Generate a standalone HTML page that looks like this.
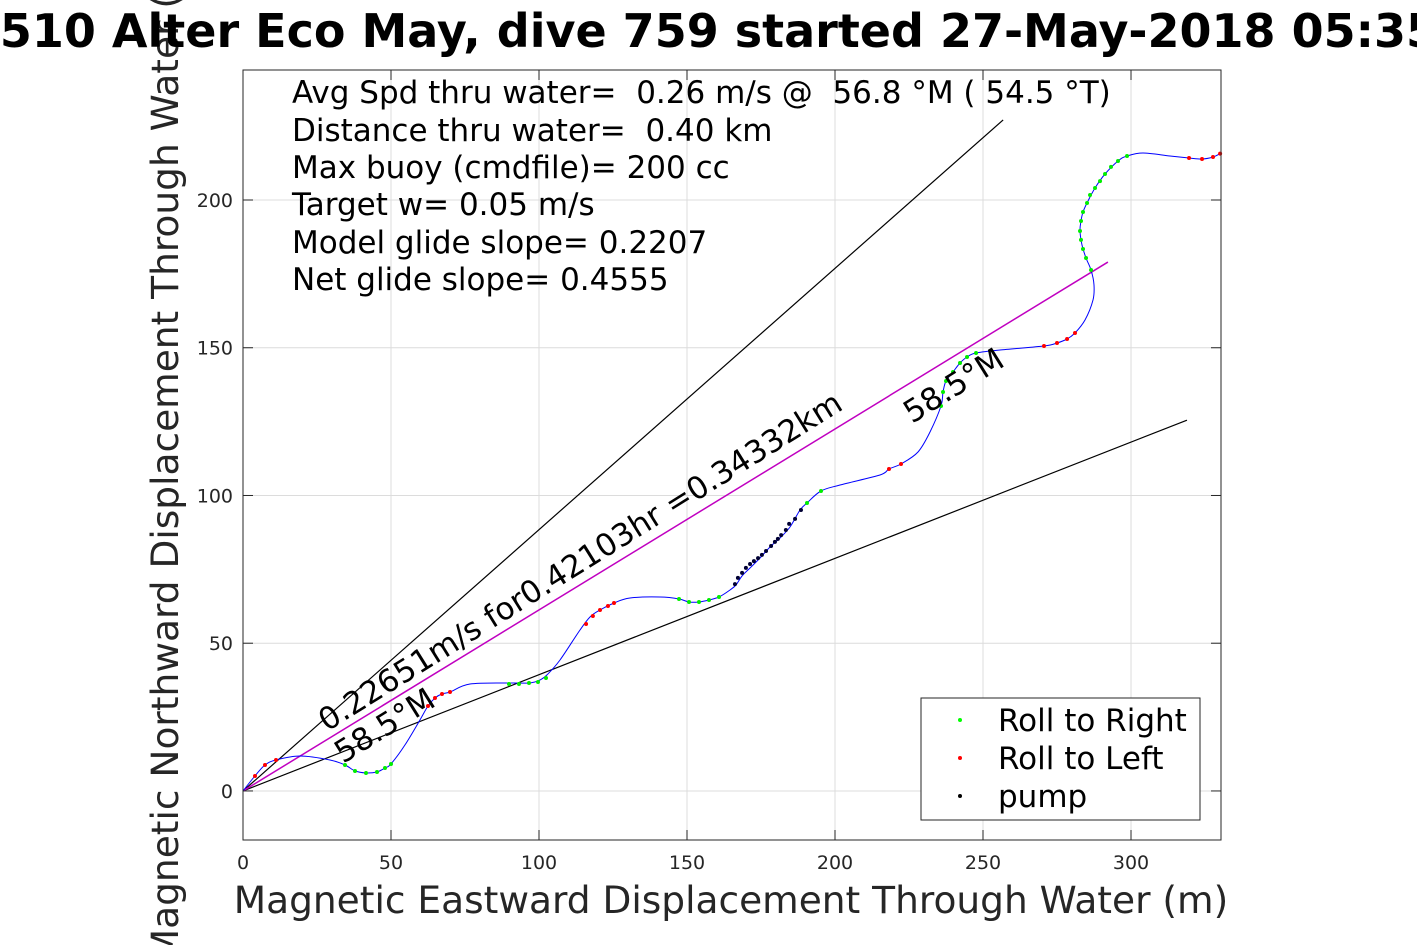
<!DOCTYPE html>
<html><head><meta charset="utf-8"><style>
body{margin:0;background:#fff;}
svg{display:block;font-family:"DejaVu Sans","Liberation Sans",sans-serif;}
text{white-space:pre;}
</style></head><body>
<svg id="chart" width="1417" height="945" viewBox="0 0 1417 945" xml:space="preserve">
<rect width="1417" height="945" fill="#fff"/>
<g id="grid"></g>
<g id="lines"></g>
<g id="marks"></g>
<rect x="243" y="70" width="978" height="770" fill="none" stroke="#262626" stroke-width="1"/>
<g id="ticks"></g>
<text x="731" y="913" font-size="37.5" text-anchor="middle" fill="#262626">Magnetic Eastward Displacement Through Water (m)</text>
<text transform="translate(178,452) rotate(-90)" font-size="37.5" text-anchor="middle" fill="#262626">Magnetic Northward Displacement Through Water (m)</text>
<text x="-71" y="47" font-size="46" font-weight="bold" fill="#000">SG510 Alter Eco May, dive 759 started 27-May-2018 05:35</text>
<g font-size="31" fill="#000">
<text x="292" y="103">Avg Spd thru water=  0.26 m/s @  56.8 °M ( 54.5 °T)</text>
<text x="292" y="141">Distance thru water=  0.40 km</text>
<text x="292" y="178">Max buoy (cmdfile)= 200 cc</text>
<text x="292" y="215">Target w= 0.05 m/s</text>
<text x="292" y="253">Model glide slope= 0.2207</text>
<text x="292" y="290">Net glide slope= 0.4555</text>
</g>
<text transform="translate(327,732) rotate(-32)" font-size="31" fill="#000">0.22651m/s for0.42103hr =0.34332km</text>
<text transform="translate(343,764) rotate(-32)" font-size="31" fill="#000">58.5°M</text>
<text transform="translate(912,424) rotate(-32)" font-size="31" fill="#000">58.5°M</text>
<g>
<rect x="921" y="698" width="279" height="122" fill="#fff" stroke="#262626" stroke-width="1"/>
<circle cx="960" cy="720" r="2" fill="#00ff00"/><text x="998" y="731" font-size="31">Roll to Right</text>
<circle cx="960" cy="758" r="2" fill="#ff0000"/><text x="998" y="769" font-size="31">Roll to Left</text>
<circle cx="960" cy="796" r="2" fill="#000"/><text x="998" y="807" font-size="31">pump</text>
</g>
</svg>
<script>
const xTicks=[0,50,100,150,200,250,300];
const yTicks=[0,50,100,150,200];
// trajectory (m east, m north)
const pathX=[0,4.05,7.43,11.15,19.26,29.39,34.46,37.84,41.55,45.27,47.97,50,54.73,59.8,62.5,64.86,67.23,69.93,76.69,90.2,96.96,100.34,102.7,107.09,113.85,117.23,120.61,125.34,130.74,140.88,147.3,150.68,154.05,157.43,160.81,164.53,166.55,168.58,171.28,174.66,178.04,181.42,184.8,188.18,190.54,195.27,201.69,215.2,218.24,222.3,228.04,232.09,235.81,236.49,237.5,239.86,242.23,244.6,247.64,255.74,270.6,275.0,278.4,281.08,284.46,287.16,287.5,286.49,284.8,283.45,282.77,283.11,283.78,285.14,287.84,291.22,295.61,298.65,304.05,313.18,319.6,323.99,327.7,330.4];
const pathY=[0,5.08,8.8,10.49,11.84,10.49,8.8,6.77,6.09,6.43,7.78,9.14,15.57,24.03,28.76,31.47,32.83,33.5,36.21,36.55,36.55,37.56,39.26,44.33,54.48,58.88,61.25,63.62,65.31,65.65,64.98,63.96,63.96,64.64,65.65,68.02,69.71,72.76,75.47,78.85,82.57,85.62,89.34,95.09,97.47,101.53,103.55,106.94,108.97,110.67,114.73,121.5,130.3,135.03,138.76,141.8,144.85,146.88,148.23,149.24,150.6,151.6,152.97,155.0,159.4,166.17,171.25,176.32,180.38,184.78,189.52,192.9,195.95,199.0,204.07,208.81,213.21,214.9,215.91,214.89,214.21,213.87,214.55,215.91];
const rightX=[34.46,37.84,41.55,45.27,47.97,50,89.86,93.24,96.62,99.66,102.36,147.3,150.68,154.05,157.43,160.81,190.54,195.27,235.81,236.49,237.5,239.86,242.23,244.6,247.64,286.49,284.8,283.78,283.1,282.77,283.11,283.78,285.14,286.15,287.84,289.53,291.22,293.24,295.61,298.65];
const rightY=[8.8,6.77,6.09,6.43,7.78,9.14,36.21,36.21,36.55,36.89,38.24,64.98,63.96,63.96,64.64,65.65,97.47,101.53,130.3,135.03,138.76,141.8,144.85,146.88,148.23,176.32,180.38,183.4,186.5,189.52,192.9,195.95,199.0,201.7,204.07,206.4,208.81,211.2,213.21,214.9];
const leftX=[4.05,7.43,11.15,62.5,64.86,67.23,69.93,115.9,118.2,120.61,123.3,125.34,218.24,222.3,270.6,275.0,278.4,281.08,319.6,323.99,327.7,330.1];
const leftY=[5.08,8.8,10.49,28.76,31.47,32.83,33.5,56.5,59.2,61.25,62.6,63.62,108.97,110.67,150.6,151.6,152.97,155.0,214.21,213.87,214.55,215.7];
const pumpX=[166.2,167.2,168.6,169.9,171.3,172.6,174,175.3,176.7,178.4,179.7,180.7,181.8,183.4,184.5,186.5,188.5];
const pumpY=[70,72.1,73.8,75.5,76.8,77.8,78.8,79.9,81.2,82.9,84.3,85.3,86.6,88.3,90.4,92.1,95.1];
// reference lines: end points in data units
const lineUpperEnd=[256.8,227.1];
const lineNetEnd=[292.2,179];
const lineLowerEnd=[318.9,125.5];

const X0=243,X1=1221,Y0=840,Y1=70,xMin=0,xMax=330.4,yMin=-16.6,yMax=244;
const sx=v=>X0+(v-xMin)/(xMax-xMin)*(X1-X0);
const sy=v=>Y0-(v-yMin)/(yMax-yMin)*(Y0-Y1);
const NS='http://www.w3.org/2000/svg';
function mk(tag,parent,attrs){const e=document.createElementNS(NS,tag);for(const k in attrs)e.setAttribute(k,attrs[k]);document.getElementById(parent).appendChild(e);return e;}
xTicks.forEach(t=>{
  const g=mk('line','grid',{x1:sx(t),x2:sx(t),y1:Y1,y2:Y0,stroke:'#dcdcdc','stroke-width':1});
  
  
  const tk=mk('text','ticks',{x:sx(t),y:Y0+29,'font-size':19,'text-anchor':'middle',fill:'#262626'});
  tk.textContent=t;
  
  
  mk('line','ticks',{x1:sx(t),x2:sx(t),y1:Y0,y2:Y0-10,stroke:'#262626'});
  mk('line','ticks',{x1:sx(t),x2:sx(t),y1:Y1,y2:Y1+10,stroke:'#262626'});
});
yTicks.forEach(t=>{
  const g=mk('line','grid',{x1:X0,x2:X1,y1:sy(t),y2:sy(t),stroke:'#dcdcdc','stroke-width':1});
  
  
  const tk=mk('text','ticks',{x:X0-10,y:sy(t)+7,'font-size':19,'text-anchor':'end',fill:'#262626'});
  tk.textContent=t;
  
  
  mk('line','ticks',{x1:X0,x2:X0+10,y1:sy(t),y2:sy(t),stroke:'#262626'});
  mk('line','ticks',{x1:X1,x2:X1-10,y1:sy(t),y2:sy(t),stroke:'#262626'});
});
const lu=mk('line','lines',{x1:sx(0),y1:sy(0),x2:sx(lineUpperEnd[0]),y2:sy(lineUpperEnd[1]),stroke:'#000','stroke-width':1.2});


const ll=mk('line','lines',{x1:sx(0),y1:sy(0),x2:sx(lineLowerEnd[0]),y2:sy(lineLowerEnd[1]),stroke:'#000','stroke-width':1.2});


const ln=mk('line','lines',{x1:sx(0),y1:sy(0),x2:sx(lineNetEnd[0]),y2:sy(lineNetEnd[1]),stroke:'#c000c0','stroke-width':1.5});


// smooth (Catmull-Rom) trajectory
const P=pathX.map((x,i)=>[sx(x),sy(pathY[i])]);
let d='M'+P[0][0].toFixed(1)+','+P[0][1].toFixed(1);
for(let i=0;i<P.length-1;i++){
  const p0=P[Math.max(i-1,0)],p1=P[i],p2=P[i+1],p3=P[Math.min(i+2,P.length-1)];
  const c1=[p1[0]+(p2[0]-p0[0])/6,p1[1]+(p2[1]-p0[1])/6];
  const c2=[p2[0]-(p3[0]-p1[0])/6,p2[1]-(p3[1]-p1[1])/6];
  d+='C'+c1[0].toFixed(1)+','+c1[1].toFixed(1)+' '+c2[0].toFixed(1)+','+c2[1].toFixed(1)+' '+p2[0].toFixed(1)+','+p2[1].toFixed(1);
}
const tr=mk('path','lines',{d:d,fill:'none',stroke:'#0000ff','stroke-width':1});


function dots(xs,ys,col,name){xs.forEach((x,i)=>{const c=mk('circle','marks',{cx:sx(x),cy:sy(ys[i]),r:2,fill:col});

});}
dots(rightX,rightY,'#00ee00','roll-right-point');
dots(leftX,leftY,'#ff0000','roll-left-point');
dots(pumpX,pumpY,'#000033','pump-point');
</script>
</body></html>
